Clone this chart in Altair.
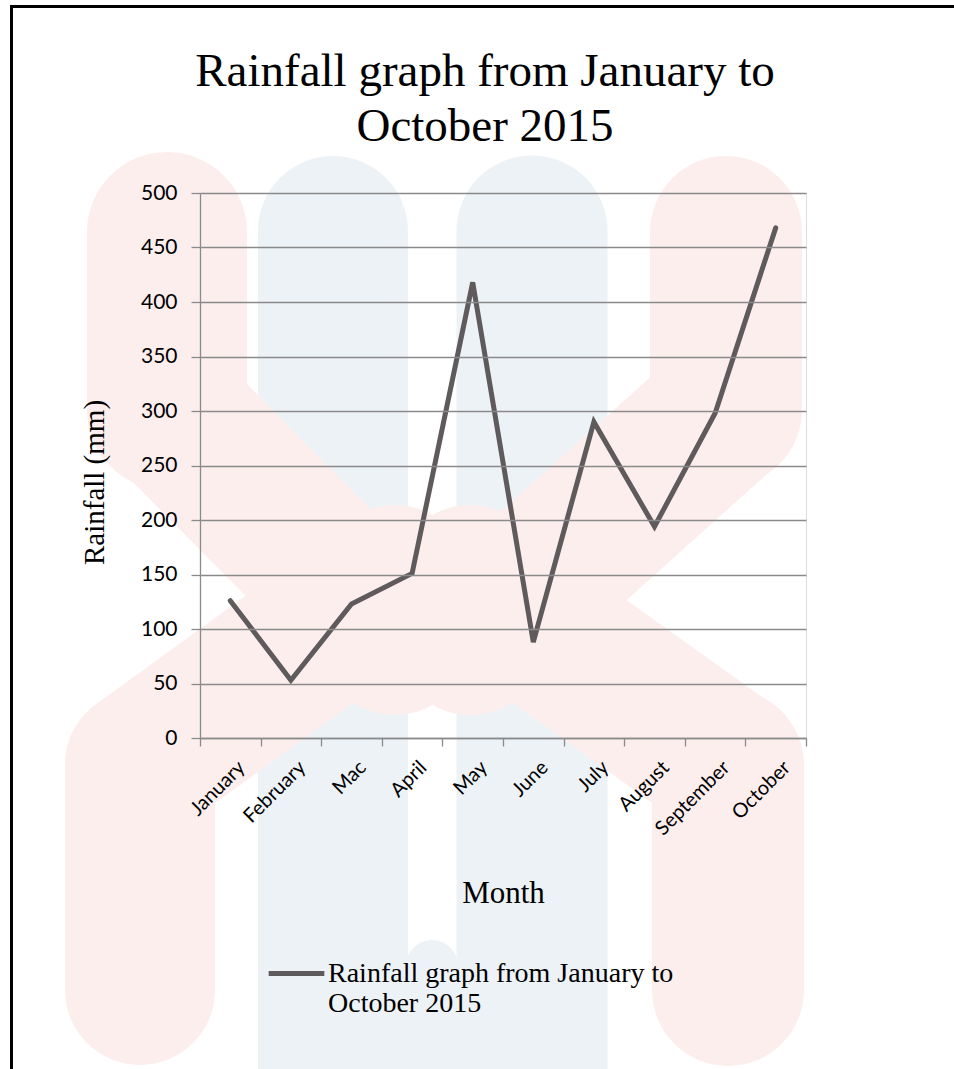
import altair as alt
import pandas as pd

# Monthly rainfall, 2015
months = ["January", "February", "Mac", "April", "May", "June",
          "July", "August", "September", "October"]
rainfall_mm = [126, 53, 123, 151, 418, 88, 290, 194, 298, 468]
series_name = "Rainfall graph from January to October 2015"
title_lines = ["Rainfall graph from January to", "October 2015"]

df = pd.DataFrame({"Month": months, "Rainfall": rainfall_mm, "Series": series_name})
one = pd.DataFrame({"k": [0]})

LINE = "#5f5a5b"
GRID = "#8a8a8a"
SERIF = "Liberation Serif"
SANS = "Lato"
PINK = "#fdeeee"
BLUE = "#edf2f7"

W, H = 606, 545
PAD_L, PAD_T = 200, 193


def band(x1, y1, x2, y2, width, color):
    """Thick rounded stroke in page pixels, used for the faint background emblem."""
    return alt.Chart(one).mark_rule(color=color, strokeWidth=width, strokeCap="round").encode(
        x=alt.value(x1 - PAD_L), y=alt.value(y1 - PAD_T),
        x2=alt.value(x2 - PAD_L), y2=alt.value(y2 - PAD_T),
    )


# faint emblem behind the chart: two blue columns joined at the foot,
# two pink columns whose diagonal arms cross in the middle
emblem = [
    band(333, 231, 333, 1110, 150, BLUE),
    band(532, 231, 532, 1110, 151, BLUE),
    band(432, 966, 432, 1110, 52, BLUE),
    band(167, 232, 167, 410, 160, PINK),
    band(726, 232, 726, 410, 152, PINK),
    band(167, 410, 395, 640, 150, PINK),
    band(726, 410, 470, 640, 150, PINK),
    band(140, 765, 395, 580, 150, PINK),
    band(728, 765, 470, 580, 150, PINK),
    band(140, 765, 140, 990, 150, PINK),
    band(728, 765, 728, 990, 152, PINK),
]

line = alt.Chart(df).mark_line(strokeWidth=5, strokeCap="round", strokeJoin="miter").encode(
    x=alt.X(
        "Month:N",
        sort=months,
        bandPosition=0.5,
        scale=alt.Scale(type="band", paddingInner=0, paddingOuter=0),
        axis=alt.Axis(
            zindex=1,
            title="Month",
            titleFont=SERIF, titleFontSize=31, titleFontWeight="normal", titleColor="#000",
            titleBaseline="alphabetic", titleY=164,
            labelFont=SANS, labelFontSize=20, labelColor="#000",
            labelAngle=-45, labelAlign="right", labelBaseline="top",
            labelPadding=11, labelOffset=4,
            tickBand="extent", tickSize=8, tickColor=GRID, tickWidth=1.3,
            domainColor=GRID, domainWidth=1.3, grid=False,
        ),
    ),
    y=alt.Y(
        "Rainfall:Q",
        scale=alt.Scale(domain=[0, 500], nice=False),
        axis=alt.Axis(
            zindex=1,
            title="Rainfall (mm)",
            titleFont=SERIF, titleFontSize=29, titleFontWeight="normal", titleColor="#000",
            titleAngle=-90, titleAlign="center", titleBaseline="middle",
            titleX=-106, titleY=289,
            values=list(range(0, 501, 50)),
            labelFont=SANS, labelFontSize=21, labelColor="#000", labelPadding=14,
            tickSize=9, tickColor=GRID, tickWidth=1.3,
            domainColor=GRID, domainWidth=1.3,
            grid=True, gridColor=GRID, gridWidth=1.5,
        ),
    ),
    color=alt.Color(
        "Series:N",
        scale=alt.Scale(range=[LINE]),
        legend=alt.Legend(
            title=None, orient="none", legendX=66, legendY=750,
            symbolType="stroke", symbolSize=3100, symbolStrokeWidth=5,
            symbolStrokeColor=LINE,
            labelFont=SERIF, labelFontSize=28, labelColor="#000",
            labelOffset=1, labelLimit=600,
            labelExpr="['Rainfall graph from January to', 'October 2015']",
        ),
    ),
)

# chart title, two centred lines
title = alt.Chart(one).mark_text(
    text=title_lines, font=SERIF, fontSize=47, color="#000",
    align="center", baseline="alphabetic", lineHeight=55,
).encode(x=alt.value(485 - PAD_L), y=alt.value(86 - PAD_T))

# black page frame: top edge and left edge
frame_top = alt.Chart(one).mark_rule(color="#000", strokeWidth=3).encode(
    x=alt.value(10 - PAD_L), x2=alt.value(954 - PAD_L), y=alt.value(6.5 - PAD_T)
)
frame_left = alt.Chart(one).mark_rule(color="#000", strokeWidth=3).encode(
    x=alt.value(11.5 - PAD_L), y=alt.value(5 - PAD_T), y2=alt.value(1069 - PAD_T)
)

chart = alt.layer(*emblem, line, title, frame_top, frame_left).properties(
    width=W, height=H,
    padding={"left": PAD_L, "top": PAD_T, "right": 954 - PAD_L - W, "bottom": 1069 - PAD_T - H},
    autosize=alt.AutoSizeParams(type="none"),
).configure_view(stroke=None).configure(background="white")

chart.save("out.html", embed_options={"renderer": "svg", "actions": False})
